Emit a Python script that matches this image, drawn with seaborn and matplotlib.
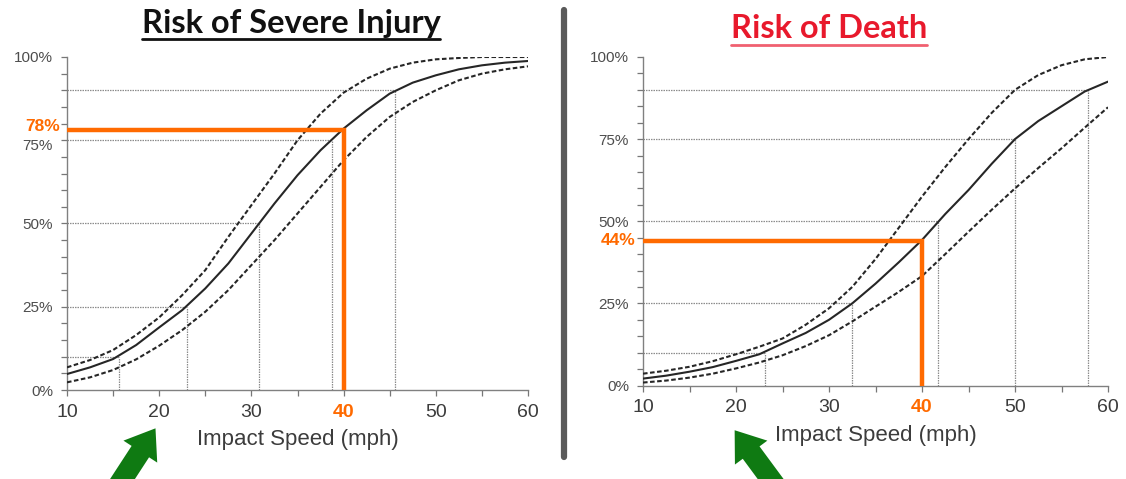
import matplotlib
matplotlib.use('Agg')
import matplotlib.pyplot as plt
import seaborn as sns
from matplotlib.lines import Line2D
from matplotlib.patches import FancyArrowPatch
from matplotlib.transforms import IdentityTransform, ScaledTranslation

######### DATA #########

speeds = [10, 12.5, 15, 17.5, 20, 22.5, 25, 27.5, 30, 32.5, 35,
          37.5, 40, 42.5, 45, 47.5, 50, 52.5, 55, 57.5, 60]

# risk of severe injury (%), median and the two dashed bounds
injury_mid = [4.8, 6.8, 9.3, 13.5, 18.8, 24, 30.5, 38, 47, 56, 64.5,
              72, 78.5, 84, 89, 92.3, 94.5, 96.3, 97.5, 98.3, 98.8]
injury_hi = [6.8, 9, 12, 16.5, 21.8, 28.5, 36, 46, 55.5, 65, 75,
             83, 89.3, 93.5, 96.5, 98.3, 99.3, 99.7, 100, 100, 100]
injury_lo = [2.3, 3.8, 6, 9.2, 13.3, 18, 23.5, 30, 37.5, 45, 53,
             61, 69, 76, 82, 86.5, 90, 93, 95, 96.3, 97.2]

# risk of death (%)
death_mid = [2.1, 3, 4.2, 5.6, 7.5, 9.5, 12.8, 16, 20, 25, 31,
             37.5, 44.3, 52.2, 59.5, 67.5, 75, 80.5, 85, 89.5, 92.5]
death_hi = [3.6, 4.5, 5.7, 7.4, 9.5, 11.8, 14.3, 18.5, 23.5, 30, 38.5,
            48, 57.5, 66.5, 75, 83, 90, 94.5, 97.5, 99.3, 100]
death_lo = [0.9, 1.5, 2.4, 3.6, 5.2, 7, 9.2, 12, 15.3, 19.5, 24,
            28.5, 33.3, 40, 46.8, 53.5, 60, 66.2, 72.2, 78.5, 84.7]

# reference levels and the speed where the median curve reaches them
levels = [10, 25, 50, 75, 90]
injury_cross = [15.6, 23.0, 30.8, 38.7, 45.6]
death_cross = [23.1, 32.5, 41.7, 50.05, 57.8]

highlight_speed = 40
injury_at_highlight = 78
death_at_highlight = 44

ORANGE = '#ff6a00'
GREEN = '#0f7a12'

sns.set_style('white')
plt.rcParams['font.family'] = ['Liberation Sans', 'DejaVu Sans']

fig = plt.figure(figsize=(11.26, 4.79), dpi=100)
W, H = 1126, 479


def draw_panel(ax, mid, hi, lo, cross, value, nudge_75=False):
    # guide lines at the reference levels
    ax.hlines(levels, 10, cross, color='#8c8c8c', lw=0.9, linestyle=(0, (1.2, 0.8)), zorder=1)
    ax.vlines(cross, 0, levels, color='#8c8c8c', lw=0.9, linestyle=(0, (1.2, 0.8)), zorder=1)

    # curves
    sns.lineplot(x=speeds, y=hi, ax=ax, color='#262626', lw=1.5, linestyle=(0, (2.2, 1.2)), zorder=3)
    sns.lineplot(x=speeds, y=lo, ax=ax, color='#262626', lw=1.5, linestyle=(0, (2.2, 1.2)), zorder=3)
    sns.lineplot(x=speeds, y=mid, ax=ax, color='#262626', lw=1.5, zorder=3)

    # highlighted speed
    sns.lineplot(x=[10, highlight_speed, highlight_speed], y=[value, value, 0], ax=ax,
                 sort=False, estimator=None, color=ORANGE, lw=3.2, zorder=4,
                 solid_joinstyle='miter')
    ax.text(9.2, value + (1.2 if nudge_75 else 0), '%d%%' % value, color=ORANGE,
            fontweight='bold', fontsize=12.5, ha='right', va='center')

    ax.set_xlim(10, 60)
    ax.set_ylim(0, 100)
    ax.set_xticks([10, 20, 30, 40, 50, 60])
    ax.set_xticks([15, 25, 35, 45, 55], minor=True)
    ax.set_yticks([0, 25, 50, 75, 100])
    ax.set_yticklabels(['0%', '25%', '50%', '75%', '100%'])
    ax.set_yticks(range(0, 101, 5), minor=True)
    ax.tick_params(axis='y', which='both', direction='out', length=4, width=0.9, color='#777777',
                   labelsize=11, labelcolor='#4d4d4d', pad=6, left=True)
    ax.tick_params(axis='x', which='both', direction='out', length=4, width=0.9, color='#777777',
                   labelsize=14, labelcolor='#3c3c3c', pad=6, bottom=True)
    for lab in ax.get_xticklabels():
        if lab.get_text() == str(highlight_speed):
            lab.set_color(ORANGE)
            lab.set_fontweight('bold')
    if nudge_75:
        for lab in ax.get_yticklabels():
            if lab.get_text() == '75%':
                lab.set_transform(lab.get_transform() + ScaledTranslation(0, -3 / 72, fig.dpi_scale_trans))
    sns.despine(ax=ax)
    for s in ['left', 'bottom']:
        ax.spines[s].set_color('#808080')
        ax.spines[s].set_linewidth(1.0)
    ax.set_xlabel('Impact Speed (mph)', fontsize=16, color='#3c3c3c', labelpad=6)
    ax.set_ylabel('')


ax1 = fig.add_axes([67 / W, (H - 390) / H, (528 - 67) / W, (390 - 57) / H])
ax2 = fig.add_axes([643 / W, (H - 385.5) / H, (1108 - 643) / W, (385.5 - 57) / H])

draw_panel(ax1, injury_mid, injury_hi, injury_lo, injury_cross, injury_at_highlight, nudge_75=True)
draw_panel(ax2, death_mid, death_hi, death_lo, death_cross, death_at_highlight)

# titles with underline
t1 = fig.text(291 / W, 1 - 23 / H, 'Risk of Severe Injury', ha='center', va='center',
              fontsize=23.5, fontweight='bold', color='#111111', family=['Lato', 'DejaVu Sans'])
t2 = fig.text(829 / W, 1 - 29 / H, 'Risk of Death', ha='center', va='center',
              fontsize=23.5, fontweight='bold', color='#e8192c', family=['Lato', 'DejaVu Sans'])
fig.canvas.draw()
for t, c in [(t1, '#111111'), (t2, '#f06070')]:
    bb = t.get_window_extent()
    fig.add_artist(Line2D([bb.x0 / W, bb.x1 / W], [(bb.y0 - 1) / H] * 2,
                          transform=fig.transFigure, color=c, lw=2))

# divider bar
fig.add_artist(Line2D([564 / W, 564 / W], [1 - 10 / H, 1 - 457 / H],
                      transform=fig.transFigure, color='#5a5a5a', lw=4.5))

# green arrows pointing at 20 mph
for tail, tip in [((116, -10), (157, 53)), ((778, -10), (733, 51))]:
    fig.add_artist(FancyArrowPatch(tail, tip, transform=IdentityTransform(),
                                   arrowstyle='simple,head_width=1.45,head_length=1.0,tail_width=0.75',
                                   mutation_scale=20, color=GREEN, lw=0))

fig.savefig('out.png', dpi=100)
